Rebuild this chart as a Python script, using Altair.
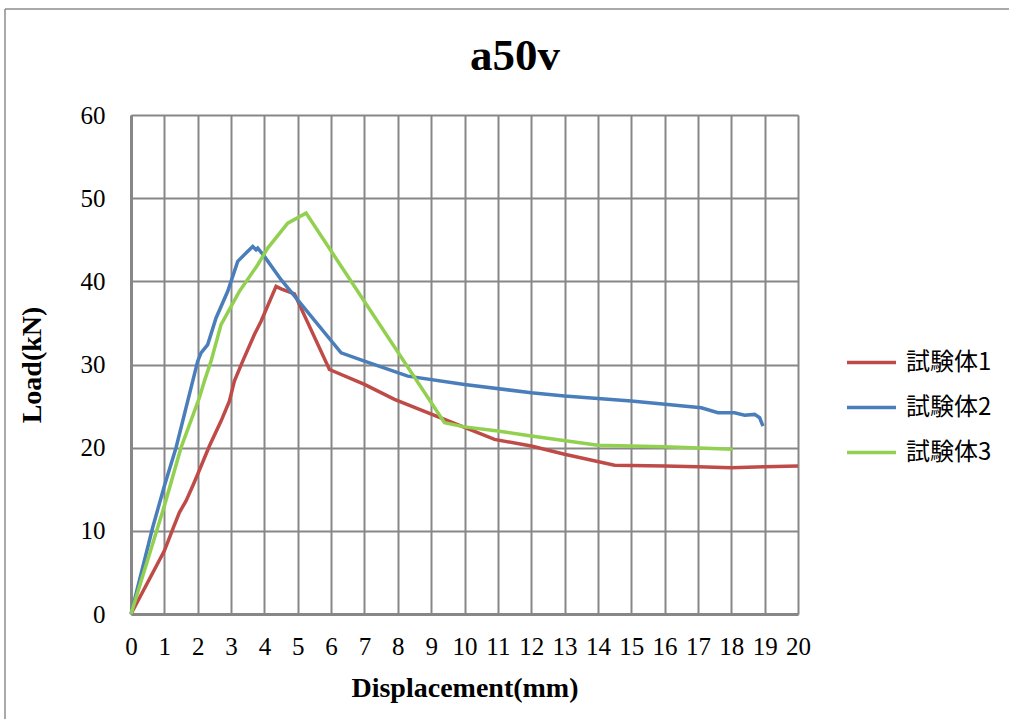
import altair as alt
import pandas as pd

# ---- data ----
series_names = ["試験体1", "試験体2", "試験体3"]
series_colors = ["#BE4B48", "#4A7EBB", "#92D050"]

red_x = [0, 1.0, 1.27, 1.45, 1.65, 1.85, 2.0, 2.35, 2.7, 2.95, 3.1, 3.35, 3.7, 3.9, 4.35,
         4.5, 4.9, 5.95, 7.0, 7.9, 9.4, 10.9, 12.0, 13.0, 14.5, 16.0, 17.0, 18.0, 19.0, 20.0]
red_y = [0, 7.6, 10.4, 12.2, 13.6, 15.4, 16.8, 20.2, 23.2, 25.6, 28.0, 30.4, 33.6, 35.2, 39.4,
         39.1, 38.5, 29.4, 27.6, 25.8, 23.4, 21.0, 20.2, 19.2, 17.9, 17.8, 17.7, 17.6, 17.7, 17.8]

blue_x = [0, 0.65, 1.0, 1.35, 1.85, 2.0, 2.1, 2.3, 2.55, 2.9, 3.2, 3.45, 3.65, 3.75, 3.8,
          4.0, 4.5, 6.3, 7.0, 8.3, 10.0, 12.0, 13.0, 15.0, 17.1, 17.6, 18.1, 18.4, 18.7,
          18.85, 18.95]
blue_y = [0, 10.4, 15.4, 20.0, 28.0, 30.4, 31.4, 32.4, 35.6, 38.8, 42.4, 43.4, 44.2, 43.8, 44.0,
          43.0, 40.2, 31.4, 30.4, 28.6, 27.6, 26.6, 26.2, 25.6, 24.8, 24.2, 24.2, 23.9, 24.0,
          23.6, 22.6]

green_x = [0, 0.8, 1.0, 1.5, 2.05, 2.2, 2.4, 2.7, 3.25, 3.8, 4.1, 4.7, 5.25, 9.4, 10.0,
           11.0, 12.0, 14.0, 16.0, 18.05]
green_y = [0, 10.4, 13.0, 20.0, 26.0, 28.0, 30.4, 34.8, 38.8, 42.0, 44.0, 47.0, 48.2, 23.0, 22.5,
           22.0, 21.4, 20.3, 20.1, 19.8]

x_ticks = list(range(0, 21))
y_ticks = [0, 10, 20, 30, 40, 50, 60]
chart_title = "a50v"
x_title = "Displacement(mm)"
y_title = "Load(kN)"

rows = []
for name, xs, ys in zip(series_names, [red_x, blue_x, green_x], [red_y, blue_y, green_y]):
    for i, (xv, yv) in enumerate(zip(xs, ys)):
        rows.append({"series": name, "disp": xv, "load": yv, "idx": i})
df = pd.DataFrame(rows)

SERIF = "Liberation Serif"
CJK = "Noto Sans CJK JP"
GRID = "#878787"
W, H = 667, 499

lines = alt.Chart(df).mark_line(strokeWidth=3.5).encode(
    x=alt.X("disp:Q",
            scale=alt.Scale(domain=[0, 20], nice=False, zero=True),
            axis=alt.Axis(values=x_ticks, title=x_title, labelPadding=20,
                          labelOverlap=False, labelFlush=False,
                          titleX=W / 2, titleY=82, titleBaseline="alphabetic",
                          titleAlign="center")),
    y=alt.Y("load:Q",
            scale=alt.Scale(domain=[0, 60], nice=False, zero=True),
            axis=alt.Axis(values=y_ticks, title=y_title, labelPadding=26,
                          labelOverlap=False, labelFlush=False,
                          titleAngle=270, titleX=-91, titleY=H / 2,
                          titleBaseline="alphabetic", titleAlign="center")),
    color=alt.Color("series:N",
                    scale=alt.Scale(domain=series_names, range=series_colors),
                    legend=alt.Legend(title=None, orient="none", legendX=714, legendY=225,
                                      symbolType="stroke", symbolSize=2400,
                                      symbolStrokeWidth=3.5, labelFont=CJK,
                                      labelFontSize=24, labelColor="black",
                                      labelOffset=8, clipHeight=45, rowPadding=0,
                                      padding=0)),
    order=alt.Order("idx:Q"),
)

one = pd.DataFrame({"t": [chart_title]})

top_border = alt.Chart(one).mark_rule(color="#8c8c8c", strokeWidth=1.5).encode(
    x=alt.value(-126), x2=alt.value(878), y=alt.value(-106))
left_border = alt.Chart(one).mark_rule(color="#8c8c8c", strokeWidth=1.5).encode(
    x=alt.value(-126), y=alt.value(-106), y2=alt.value(604))

title_text = alt.Chart(one).mark_text(font=SERIF, fontSize=45, fontWeight="bold",
                                      align="center", baseline="alphabetic",
                                      color="black").encode(
    x=alt.value(384), y=alt.value(-45), text="t:N")

chart = alt.layer(lines, top_border, left_border, title_text).properties(
    width=W, height=H,
    padding={"left": 4, "top": 8, "right": 0, "bottom": 0},
    background="white",
).configure_view(stroke=None).configure_axis(
    grid=True, gridColor=GRID, gridWidth=2, gridOpacity=1,
    domainColor=GRID, domainWidth=3,
    ticks=False,
    labelFont=SERIF, labelFontSize=25, labelColor="black",
    titleFont=SERIF, titleFontSize=28, titleFontWeight="bold", titleColor="black",
)

chart.save("out.html", embed_options={"renderer": "svg", "actions": False})
